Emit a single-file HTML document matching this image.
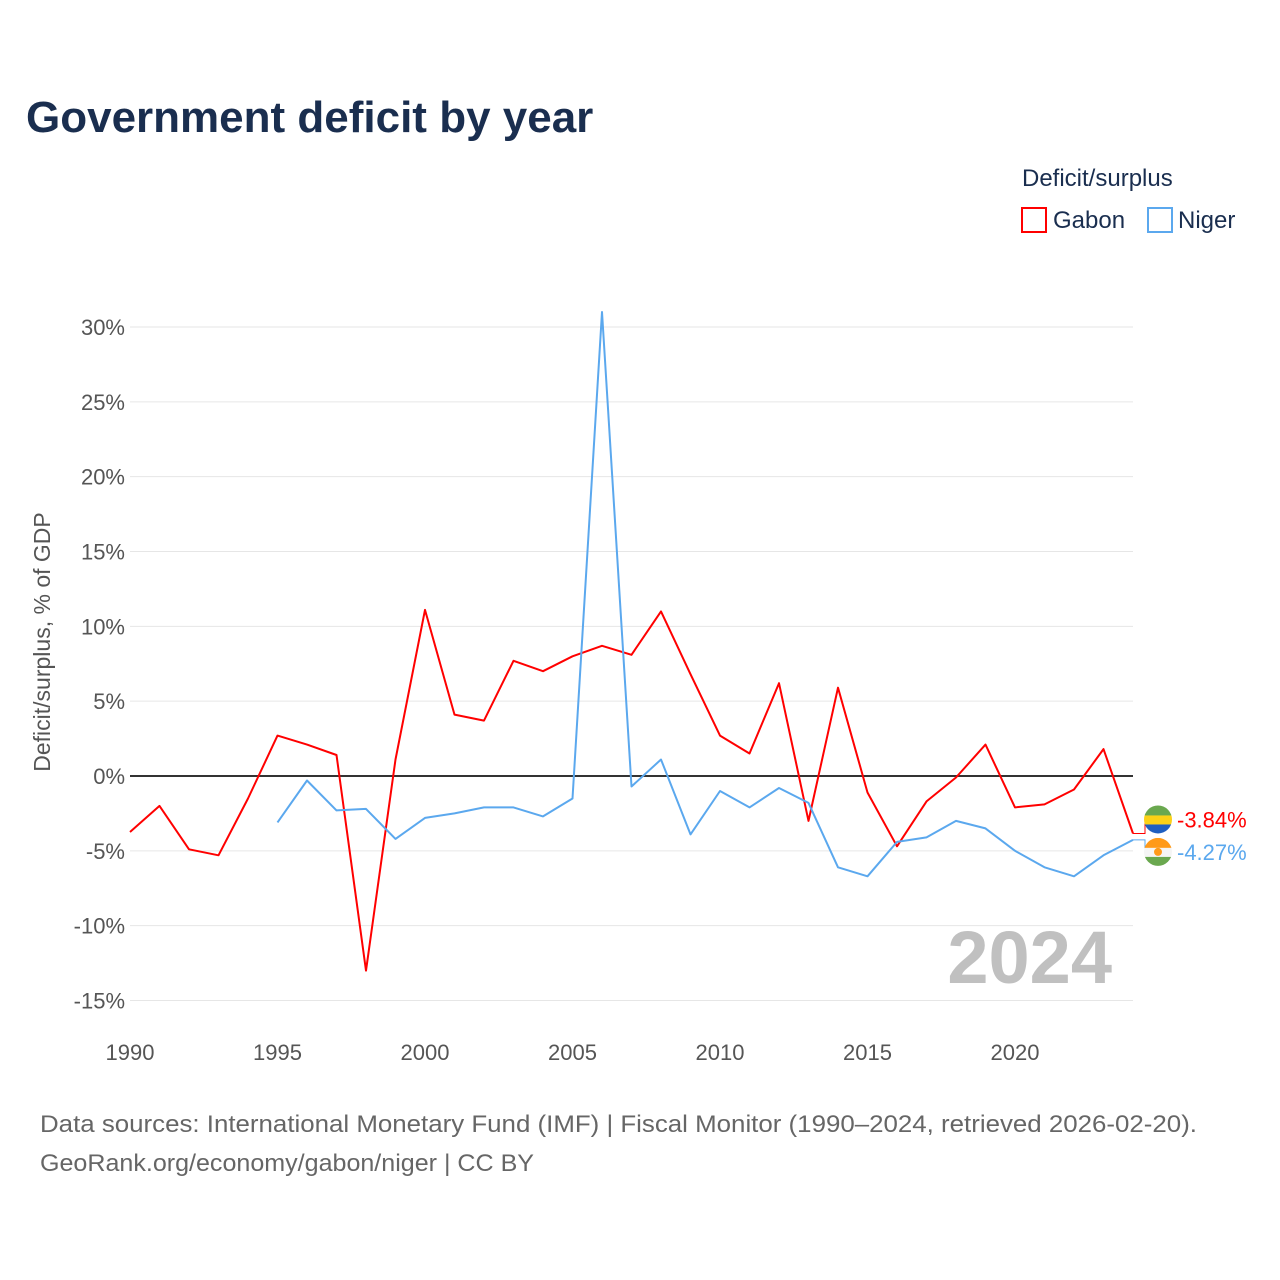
<!DOCTYPE html>
<html><head><meta charset="utf-8"><style>
body{margin:0;background:#fff;font-family:"Liberation Sans",sans-serif;}
#wrap{position:relative;width:1280px;height:1280px;overflow:hidden;}
</style></head><body>
<div id="wrap">
<svg id="chart" width="1280" height="1280" xmlns="http://www.w3.org/2000/svg">
<text x="26" y="132" font-size="44" font-weight="bold" fill="#1a2e4f">Government deficit by year</text>
<text x="1022" y="186" font-size="24" fill="#1a2e4f">Deficit/surplus</text>
<g><rect x="1022" y="208" width="24" height="24" fill="none" stroke="#ff0000" stroke-width="2"/><text x="1053" y="228" font-size="24" fill="#1a2e4f">Gabon</text></g>
<g><rect x="1148" y="208" width="24" height="24" fill="none" stroke="#5ba8ee" stroke-width="2"/><text x="1178" y="228" font-size="24" fill="#1a2e4f">Niger</text></g>
<g id="grid"></g><g id="xt"></g><g id="series"></g>
<text transform="translate(50,642) rotate(-90)" text-anchor="middle" font-size="23" fill="#555">Deficit/surplus, % of GDP</text>
<text x="1112" y="983" text-anchor="end" font-size="74" font-weight="bold" fill="#c0c0c0">2024</text>
<text x="40" y="1132" font-size="24" fill="#666" textLength="1157" lengthAdjust="spacingAndGlyphs">Data sources: International Monetary Fund (IMF) | Fiscal Monitor (1990–2024, retrieved 2026-02-20).</text>
<text x="40" y="1171" font-size="24" fill="#666" textLength="494" lengthAdjust="spacingAndGlyphs">GeoRank.org/economy/gabon/niger | CC BY</text>
</svg></div>
<script>
const years=[];for(let y=1990;y<=2024;y++)years.push(y);
const gabon=[-3.74,-2.0,-4.9,-5.3,-1.5,2.7,2.1,1.4,-13.0,1.1,11.1,4.1,3.7,7.7,7.0,8.0,8.7,8.1,11.0,6.8,2.7,1.5,6.2,-3.0,5.9,-1.1,-4.7,-1.7,-0.1,2.1,-2.1,-1.9,-0.9,1.8,-3.84];
const niger=[null,null,null,null,null,-3.1,-0.3,-2.3,-2.2,-4.2,-2.8,-2.5,-2.1,-2.1,-2.7,-1.5,31.0,-0.7,1.1,-3.9,-1.0,-2.1,-0.8,-1.8,-6.1,-6.7,-4.4,-4.1,-3.0,-3.5,-5.0,-6.1,-6.7,-5.3,-4.27];
const yTicks=[30,25,20,15,10,5,0,-5,-10,-15];
const xTicks=[1990,1995,2000,2005,2010,2015,2020];
const NS="http://www.w3.org/2000/svg";
const X=y=>130+(y-1990)*(1133-130)/34;
const Y=v=>776-v*(776-327)/30;
function mk(t,a,p){const e=document.createElementNS(NS,t);for(const k in a)e.setAttribute(k,a[k]);p.appendChild(e);return e;}
const grid=document.getElementById('grid');
yTicks.forEach(v=>{
 const l=mk('line',{x1:130,x2:1133,y1:Y(v),y2:Y(v),stroke:v===0?'#333':'#e6e6e6','stroke-width':v===0?2:1},grid);
 
 
 const t=mk('text',{x:125,y:Y(v)+8,'text-anchor':'end','font-size':22,fill:'#555'},grid);
 t.textContent=v+'%';
 
 
});
const xt=document.getElementById('xt');
xTicks.forEach(v=>{
 const t=mk('text',{x:X(v),y:1060,'text-anchor':'middle','font-size':22,fill:'#555'},xt);
 t.textContent=v;
 
 
});
const s=document.getElementById('series');
function line(data,color,name){
 let d='';data.forEach((v,i)=>{if(v===null)return;d+=(d?'L':'M')+X(years[i]).toFixed(1)+','+Y(v).toFixed(1);});
 const p=mk('path',{d:d,fill:'none',stroke:color,'stroke-width':2,'stroke-linejoin':'round'},s);
 
 
}
line(gabon,'#ff0000','gabon-line');
line(niger,'#5ba8ee','niger-line');
const gl=gabon[gabon.length-1], nl=niger[niger.length-1];
const gy=Y(gl)-14, ny=Y(nl)+12;
mk('path',{d:`M1133,${Y(gl)}L1145,${Y(gl)}L1145,${gy}L1150,${gy}`,stroke:'#ff0000',fill:'none'},s);
mk('path',{d:`M1133,${Y(nl)}L1145,${Y(nl)}L1145,${ny}L1150,${ny}`,stroke:'#5ba8ee',fill:'none'},s);
const fg=mk('g',{},s);
mk('clipPath',{id:'c1'},fg);mk('circle',{cx:1158,cy:gy,r:14},fg.lastChild);
mk('rect',{x:1144,y:gy-14,width:28,height:10,fill:'#6aa84f','clip-path':'url(#c1)'},fg);
mk('rect',{x:1144,y:gy-4,width:28,height:9,fill:'#fcd116','clip-path':'url(#c1)'},fg);
mk('rect',{x:1144,y:gy+5,width:28,height:10,fill:'#1f5fc0','clip-path':'url(#c1)'},fg);
const fn=mk('g',{},s);
mk('clipPath',{id:'c2'},fn);mk('circle',{cx:1158,cy:ny,r:14},fn.lastChild);
mk('rect',{x:1144,y:ny-14,width:28,height:10,fill:'#ff9a1a','clip-path':'url(#c2)'},fn);
mk('rect',{x:1144,y:ny-4,width:28,height:9,fill:'#f5f5f5','clip-path':'url(#c2)'},fn);
mk('rect',{x:1144,y:ny+5,width:28,height:10,fill:'#6aa84f','clip-path':'url(#c2)'},fn);
mk('circle',{cx:1158,cy:ny,r:4,fill:'#ff9a1a'},fn);
const t1=mk('text',{x:1177,y:gy+8,'font-size':22,fill:'#ff0000'},s);t1.textContent=gl.toFixed(2)+'%';


const t2=mk('text',{x:1177,y:ny+8,'font-size':22,fill:'#5ba8ee'},s);t2.textContent=nl.toFixed(2)+'%';


</script>
</body></html>
